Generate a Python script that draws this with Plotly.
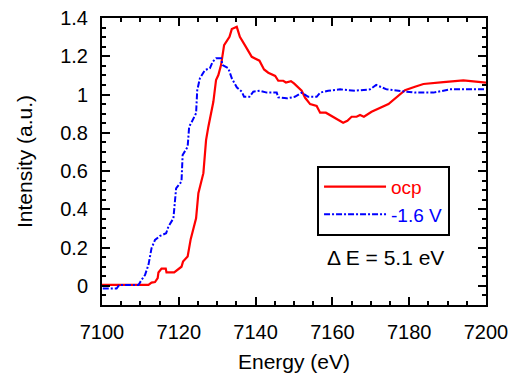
import plotly.graph_objects as go

# ocp (red, solid)
ocp_energy = [7100, 7112.1, 7112.9, 7113.8, 7114.5, 7114.7, 7115.5, 7116.6, 7116.8, 7118.8,
              7120.7, 7121.1, 7122.3, 7122.7, 7123.1, 7124.5, 7125.1, 7126.4, 7127.1, 7127.7,
              7129.0, 7129.7, 7130.3, 7131.0, 7131.8, 7133.2, 7133.8, 7135.1, 7135.9, 7137.2,
              7139.0, 7141.0, 7142.2, 7143.3, 7145.1, 7145.9, 7147.2, 7147.9, 7149.2, 7150.0,
              7152.0, 7152.9, 7154.2, 7155.9, 7156.8, 7158.3, 7159.8, 7161.1, 7162.8, 7163.9,
              7165.0, 7166.3, 7167.2, 7168.2, 7170.2, 7174.6, 7176.7, 7178.9, 7181.5, 7183.7,
              7188.9, 7194.1, 7200]
ocp_intensity = [0.005, 0.005, 0.017, 0.02, 0.04, 0.07, 0.09, 0.09, 0.07, 0.07,
                 0.10, 0.127, 0.153, 0.197, 0.244, 0.353, 0.484, 0.589, 0.762, 0.832,
                 0.962, 1.076, 1.102, 1.154, 1.258, 1.302, 1.342, 1.354, 1.302, 1.258,
                 1.197, 1.177, 1.131, 1.114, 1.097, 1.072, 1.072, 1.063, 1.07, 1.058,
                 1.02, 0.983, 0.95, 0.94, 0.905, 0.905, 0.888, 0.876, 0.853, 0.863,
                 0.884, 0.884, 0.893, 0.884, 0.91, 0.95, 0.988, 1.023, 1.041, 1.055,
                 1.065, 1.074, 1.062]

# -1.6 V (blue, dash-dot)
v16_energy = [7100.2, 7103.8, 7104.5, 7109.5, 7110.3, 7111.2, 7112.1, 7112.9, 7113.8, 7115.1,
              7116.7, 7117.3, 7118.6, 7119.3, 7120.7, 7121.0, 7122.3, 7122.7, 7123.2, 7124.5,
              7124.8, 7125.5, 7126.8, 7128.1, 7128.8, 7129.7, 7131.0, 7131.4, 7132.9, 7133.8,
              7135.1, 7136.4, 7137.0, 7138.4, 7139.4, 7141.1, 7142.9, 7145.5, 7145.9, 7148.1,
              7150.2, 7152.0, 7153.7, 7155.9, 7156.8, 7158.9, 7162.0, 7165.9, 7169.8, 7171.4,
              7174.1, 7178.0, 7181.5, 7186.3, 7190.6, 7200]
v16_intensity = [-0.014, -0.014, 0.005, 0.005, 0.031, 0.057, 0.11, 0.197, 0.24, 0.261,
                 0.275, 0.31, 0.353, 0.51, 0.545, 0.684, 0.727, 0.832, 0.85, 0.902,
                 1.023, 1.085, 1.128, 1.137, 1.171, 1.189, 1.189, 1.154, 1.137, 1.085,
                 1.038, 1.015, 0.988, 0.988, 1.015, 1.02, 1.01, 1.01, 0.985, 0.98,
                 0.988, 1.01, 0.988, 0.988, 1.01, 1.02, 1.027, 1.02, 1.027, 1.05,
                 1.027, 1.02, 1.01, 1.01, 1.027, 1.027]

x_ticks = [7100, 7120, 7140, 7160, 7180, 7200]
y_ticks = [0, 0.2, 0.4, 0.6, 0.8, 1, 1.2, 1.4]
y_tick_labels = ["0", "0.2", "0.4", "0.6", "0.8", "1", "1.2", "1.4"]

FONT = "Liberation Sans, Arial, sans-serif"

fig = go.Figure()
fig.add_trace(go.Scatter(
    x=ocp_energy, y=ocp_intensity, mode="lines",
    name='<span style="color:#ff0000">ocp</span>',
    line=dict(color="#ff0000", width=2.2),
))
fig.add_trace(go.Scatter(
    x=v16_energy, y=v16_intensity, mode="lines",
    name='<span style="color:#0000ff">-1.6 V</span>',
    line=dict(color="#0000ff", width=2, dash="6px,2px,2px,2px"),
))

axis_common = dict(
    showline=True, linecolor="black", linewidth=2, mirror="ticks",
    ticks="inside", ticklen=8, tickwidth=2, tickcolor="black",
    showgrid=False, zeroline=False, automargin=False,
    tickfont=dict(family=FONT, size=20, color="black"),
    ticklabelstandoff=8,
)

fig.update_xaxes(
    range=[7100, 7200], tickvals=x_ticks,
    minor=dict(dtick=5, ticks="inside", ticklen=4, tickwidth=2, tickcolor="black", showgrid=False),
    title=dict(text="Energy (eV)", font=dict(family=FONT, size=21, color="black"), standoff=12),
    **axis_common,
)
fig.update_yaxes(
    range=[-0.1, 1.4], tickvals=y_ticks, ticktext=y_tick_labels,
    minor=dict(dtick=0.05, tick0=0, ticks="inside", ticklen=4, tickwidth=2, tickcolor="black", showgrid=False),
    title=dict(text="Intensity (a.u.)", font=dict(family=FONT, size=21, color="black"), standoff=22),
    **axis_common,
)

fig.add_annotation(
    x=0.737, y=0.165, xref="paper", yref="paper",
    xanchor="center", yanchor="middle",
    text="Δ E = 5.1 eV", showarrow=False,
    font=dict(family=FONT, size=21, color="black"),
)

fig.update_layout(
    width=513, height=382,
    margin=dict(l=102, r=27, t=18, b=77, autoexpand=False),
    paper_bgcolor="white", plot_bgcolor="white",
    showlegend=True,
    legend=dict(
        x=0.56, y=0.485, xanchor="left", yanchor="top",
        bordercolor="black", borderwidth=2, bgcolor="white",
        font=dict(family=FONT, size=19),
        itemwidth=62,
        tracegroupgap=0,
    ),
)

fig.write_html(
    "out.html",
    config={"displayModeBar": False},
    post_script="document.body.style.margin='0px';document.body.style.overflow='hidden';",
)
